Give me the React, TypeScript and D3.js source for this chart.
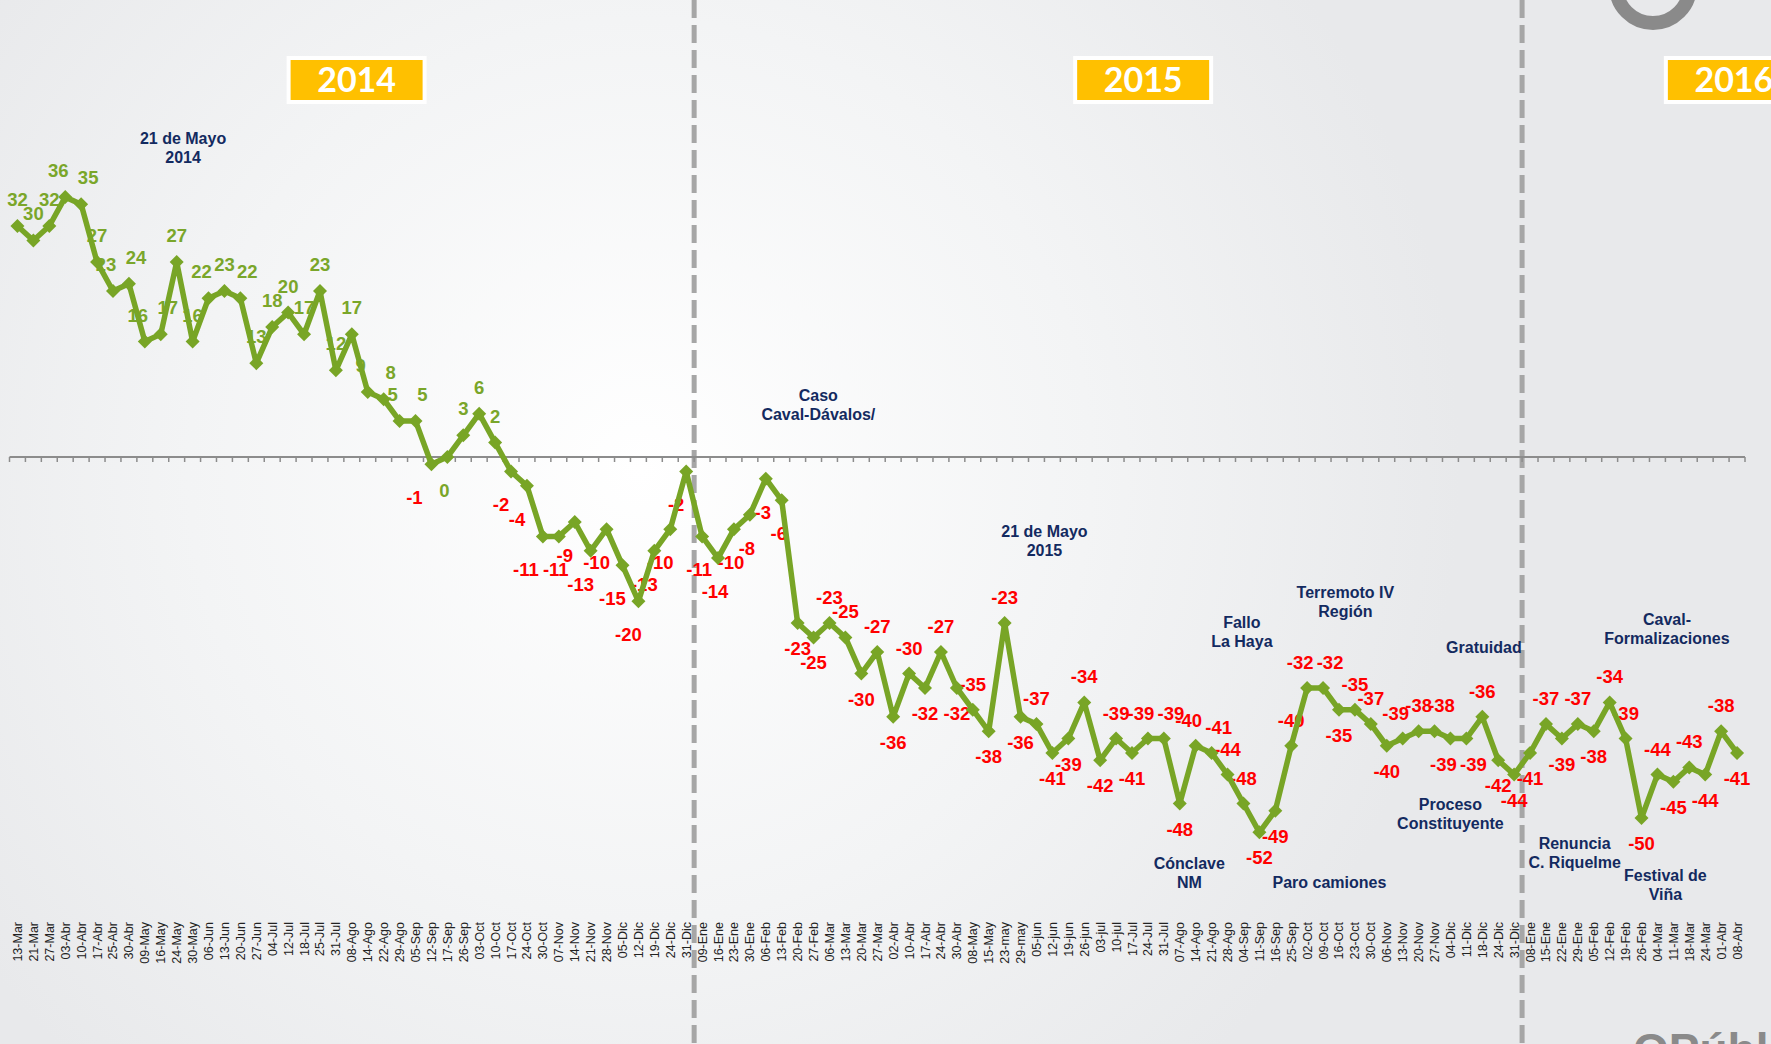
import React from 'react'
import * as d3 from 'd3'

const dates2014 = ['13-Mar', '21-Mar', '27-Mar', '03-Abr', '10-Abr', '17-Abr', '25-Abr', '30-Abr', '09-May', '16-May', '24-May', '30-May', '06-Jun', '13-Jun', '20-Jun', '27-Jun', '04-Jul', '12-Jul', '18-Jul', '25-Jul', '31-Jul', '08-Ago', '14-Ago', '22-Ago', '29-Ago', '05-Sep', '12-Sep', '17-Sep', '26-Sep', '03-Oct', '10-Oct', '17-Oct', '24-Oct', '30-Oct', '07-Nov', '14-Nov', '21-Nov', '28-Nov', '05-Dic', '12-Dic', '19-Dic', '24-Dic', '31-Dic']
const values2014 = [32, 30, 32, 36, 35, 27, 23, 24, 16, 17, 27, 16, 22, 23, 22, 13, 18, 20, 17, 23, 12, 17, 9, 8, 5, 5, -1, 0, 3, 6, 2, -2, -4, -11, -11, -9, -13, -10, -15, -20, -13, -10, -2]

const dates2015 = ['09-Ene', '16-Ene', '23-Ene', '30-Ene', '06-Feb', '13-Feb', '20-Feb', '27-Feb', '06-Mar', '13-Mar', '20-Mar', '27-Mar', '02-Abr', '10-Abr', '17-Abr', '24-Abr', '30-Abr', '08-May', '15-May', '23-may', '29-may', '05-jun', '12-jun', '19-jun', '26-jun', '03-jul', '10-jul', '17-Jul', '24-Jul', '31-Jul', '07-Ago', '14-Ago', '21-Ago', '28-Ago', '04-Sep', '11-Sep', '16-Sep', '25-Sep', '02-Oct', '09-Oct', '16-Oct', '23-Oct', '30-Oct', '06-Nov', '13-Nov', '20-Nov', '27-Nov', '04-Dic', '11-Dic', '18-Dic', '24-Dic', '31-Dic']
const values2015 = [-11, -14, -10, -8, -3, -6, -23, -25, -23, -25, -30, -27, -36, -30, -32, -27, -32, -35, -38, -23, -36, -37, -41, -39, -34, -42, -39, -41, -39, -39, -48, -40, -41, -44, -48, -52, -49, -40, -32, -32, -35, -35, -37, -40, -39, -38, -38, -39, -39, -36, -42, -44]

const dates2016 = ['08-Ene', '15-Ene', '22-Ene', '29-Ene', '05-Feb', '12-Feb', '19-Feb', '26-Feb', '04-Mar', '11-Mar', '18-Mar', '24-Mar', '01-Abr', '08-Abr']
const values2016 = [-41, -37, -39, -37, -38, -34, -39, -50, -44, -45, -43, -44, -38, -41]

const years = [
  { label: '2014', at: 21.3 },
  { label: '2015', at: 70.7 },
  { label: '2016', at: 107.8 },
]

// events, placed in category / value units
const events = [
  { lines: ['21 de Mayo', '2014'], at: 10.4, v: 44 },
  { lines: ['Caso', 'Caval-Dávalos/'], at: 50.3, v: 8.4 },
  { lines: ['21 de Mayo', '2015'], at: 64.5, v: -10.4 },
  { lines: ['Cónclave', 'NM'], at: 73.6, v: -56.4 },
  { lines: ['Fallo', 'La Haya'], at: 76.9, v: -23 },
  { lines: ['Paro camiones'], at: 82.4, v: -59 },
  { lines: ['Terremoto IV', 'Región'], at: 83.4, v: -18.8 },
  { lines: ['Proceso', 'Constituyente'], at: 90, v: -48.2 },
  { lines: ['Gratuidad'], at: 92.1, v: -26.5 },
  { lines: ['Renuncia', 'C. Riquelme'], at: 97.8, v: -53.6 },
  { lines: ['Caval-', 'Formalizaciones'], at: 103.6, v: -22.6 },
  { lines: ['Festival de', 'Viña'], at: 103.5, v: -58 },
]

const dates = [...dates2014, ...dates2015, ...dates2016]
const values = [...values2014, ...values2015, ...values2016]

const W = 1771, H = 1044
const GREEN = '#78A526'
const NAVY = '#132a60'
const FONT = '"Liberation Sans", Arial, sans-serif'

export default function App() {
  const n = dates.length
  const x = d3.scaleBand<number>().domain(d3.range(n)).range([9.5, 1745]).paddingInner(0).paddingOuter(0)
  const bw = x.bandwidth()
  const cx = d3.scaleLinear().domain([0, n - 1]).range([x(0)! + bw / 2, x(n - 1)! + bw / 2])
  const y = d3.scaleLinear().domain([0, 32]).range([457, 226])

  const line = d3.line<number>().x((d, i) => cx(i)).y(d => y(d))
  const marker = d3.symbol().type(d3.symbolSquare).size(98)()

  const y0 = y(0)
  const ticks = d3.range(n + 1).map(i => 9.5 + i * bw)
  const splitAfter2014 = dates2014.length
  const splitAfter2015 = dates2014.length + dates2015.length
  const dropStart = dates2014.length + 6

  // where each value label sits relative to its point
  const labelPos = (i: number) => {
    const v = values[i]
    if (i < dropStart) {
      if (v > 0) return { dx: 0, dy: -20 }
      return { dx: i < splitAfter2014 ? -10 : -3, dy: 40 }
    }
    const prev = values[i - 1] ?? v
    const next = values[i + 1] ?? v
    return v >= (prev + next) / 2 ? { dx: 0, dy: -19 } : { dx: 0, dy: 32 }
  }
  const labels = values.map((v, i) => {
    const p = labelPos(i)
    return { v, x: cx(i) + p.dx, y: y(v) + p.dy }
  })
  // spread neighbours that would sit right on top of each other
  for (let i = 1; i < labels.length; i++) {
    const a = labels[i - 1], b = labels[i]
    if (Math.abs(a.y - b.y) < 12 && b.x - a.x < 24) {
      a.x -= 7
      b.x += 7
    }
  }

  return (
    <svg width={W} height={H} style={{ position: 'absolute', left: 0, top: 0, display: 'block' }}>
      <defs>
        <radialGradient id="bg" cx="640" cy="470" r="820" gradientUnits="userSpaceOnUse">
          <stop offset="0" stopColor="#ffffff" />
          <stop offset="0.55" stopColor="#f3f4f5" />
          <stop offset="1" stopColor="#e8e9eb" />
        </radialGradient>
      </defs>
      <rect width={W} height={H} fill="url(#bg)" />

      {/* logo bits */}
      <circle cx={1653} cy={-14} r={37} fill="none" stroke="#8a8a8a" strokeWidth={14} />
      <text x={1633} y={1066} fontFamily={FONT} fontWeight="bold" fontSize={46} fill="#8a8a8a">OPúbli</text>

      {/* year separators */}
      {[splitAfter2014, splitAfter2015].map(k => (
        <line key={k} x1={x(k)!} x2={x(k)!} y1={0} y2={H} stroke="#a6a6a6" strokeWidth={5} strokeDasharray="18 7" />
      ))}

      {/* year boxes */}
      {years.map(yr => (
        <g key={yr.label} transform={`translate(${cx(yr.at)},80)`}>
          <rect x={-70} y={-24} width={140} height={48} fill="#ffffff" />
          <rect x={-66} y={-20} width={132} height={40} fill="#FFC000" />
          <text y={12} textAnchor="middle" fontFamily="Lato, 'Open Sans', sans-serif" fontWeight="bold" fontSize={34} fill="#ffffff">{yr.label}</text>
        </g>
      ))}

      {/* axis */}
      <line x1={9.5} x2={1745} y1={y0} y2={y0} stroke="#8c8c8c" strokeWidth={2} />
      {ticks.map((t, i) => (
        <line key={i} x1={t} x2={t} y1={y0} y2={y0 + 5} stroke="#8c8c8c" strokeWidth={1.5} />
      ))}
      {dates.map((d, i) => (
        <text key={i} transform={`translate(${cx(i) + 4.5},922) rotate(-90)`} textAnchor="end"
          fontFamily={FONT} fontSize={12.5} fill="#222">{d}</text>
      ))}

      {/* data labels */}
      {labels.map((l, i) => (
        <text key={i} x={l.x} y={l.y} textAnchor="middle" fontFamily={FONT} fontWeight="bold"
          fontSize={18.5} fill={l.v >= 0 ? '#7aa62a' : '#ff0000'}>{l.v}</text>
      ))}

      {/* series */}
      <path d={line(values)!} fill="none" stroke={GREEN} strokeWidth={5.5} strokeLinejoin="round" />
      {values.map((v, i) => (
        <path key={i} d={marker!} transform={`translate(${cx(i)},${y(v)}) rotate(45)`} fill={GREEN} />
      ))}

      {/* events */}
      {events.map((e, k) => (
        <text key={k} x={cx(e.at)} y={y(e.v) + 5} textAnchor="middle" fontFamily={FONT}
          fontWeight="bold" fontSize={16} fill={NAVY}>
          {e.lines.map((l, j) => (
            <tspan key={j} x={cx(e.at)} dy={j === 0 ? 0 : 19}>{l}</tspan>
          ))}
        </text>
      ))}
    </svg>
  )
}
